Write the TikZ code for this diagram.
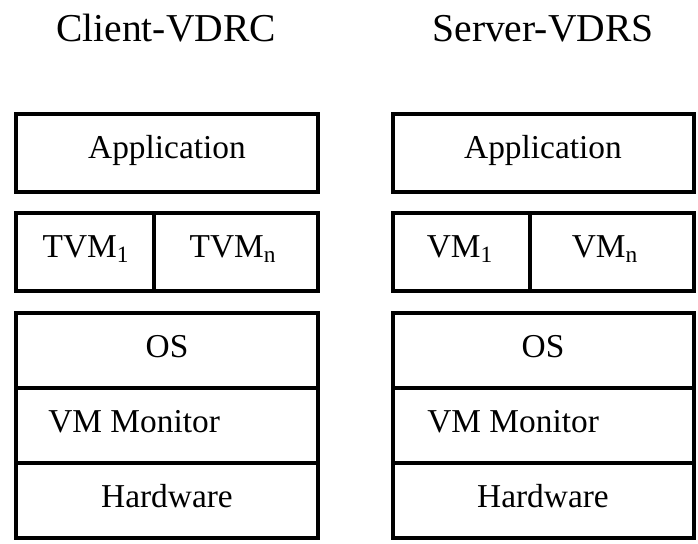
\documentclass[tikz,border=0pt]{standalone}
\usepackage{fontspec}
\setmainfont{Liberation Serif}
\usetikzlibrary{calc}

\tikzset{
	box/.style={line width=2.2pt},
	divider/.style={line width=1.8pt},
	label/.style={font=\fontsize{19}{22}\selectfont, anchor=base, inner sep=0pt},
	title/.style={font=\fontsize{22.5}{26}\selectfont, anchor=base, inner sep=0pt}
}

\begin{document}
\begin{tikzpicture}[x=0.02cm, y=-0.02cm]
			%%%%% START %%%%%
			\useasboundingbox (0, 0) rectangle (698, 544);
			
			\node[title] (clientTitle) at (166, 42) {Client-VDRC};
			\node[title] (serverTitle) at (543, 42) {Server-VDRS};
			
			% client side
			\draw[box] (16, 114) rectangle (318, 192);
			\node[label] (clientApp) at (167, 159) {Application};
			
			\draw[box] (16, 213) rectangle (318, 291);
			\draw[divider] (154, 213) -- (154, 291);
			\node[label] (clientTvmOne) at (86, 258) {TVM\textsubscript{1}};
			\node[label] (clientTvmN) at (233, 258) {TVM\textsubscript{n}};
			
			\draw[box] (16, 313) rectangle (318, 538);
			\draw[divider] (16, 388) -- (318, 388);
			\draw[divider] (16, 463) -- (318, 463);
			\node[label] (clientOS) at (167, 358) {OS};
			\node[label, anchor=base west] (clientVmm) at (48, 433) {VM Monitor};
			\node[label] (clientHw) at (167, 508) {Hardware};
			
			% server side
			\draw[box] (393, 114) rectangle (694, 192);
			\node[label] (serverApp) at (543, 159) {Application};
			
			\draw[box] (393, 213) rectangle (694, 291);
			\draw[divider] (530, 213) -- (530, 291);
			\node[label] (serverVmOne) at (460, 258) {VM\textsubscript{1}};
			\node[label] (serverVmN) at (605, 258) {VM\textsubscript{n}};
			
			\draw[box] (393, 313) rectangle (694, 538);
			\draw[divider] (393, 388) -- (694, 388);
			\draw[divider] (393, 463) -- (694, 463);
			\node[label] (serverOS) at (543, 358) {OS};
			\node[label, anchor=base west] (serverVmm) at (427, 433) {VM Monitor};
			\node[label] (serverHw) at (543, 508) {Hardware};
			%%%%% END %%%%%
\end{tikzpicture}
\end{document}
